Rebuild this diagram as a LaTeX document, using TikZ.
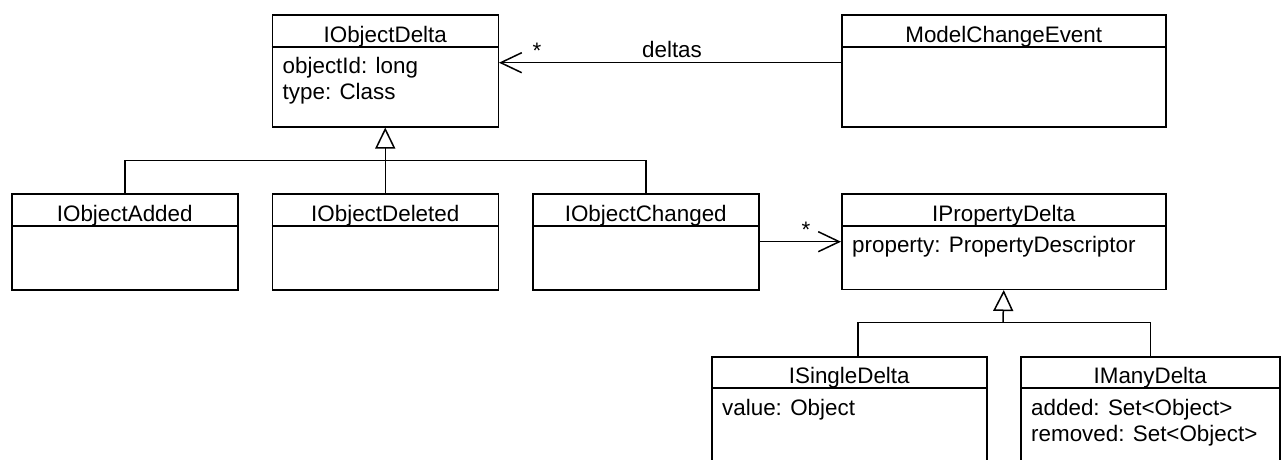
\documentclass[tikz,border=0pt]{standalone}
\usepackage{fontspec}
\setmainfont{Liberation Sans}
\usetikzlibrary{arrows.meta}
\newcommand\UmlClass[7]{%
  \node[cls, minimum width=#4pt, minimum height=#5pt] (#1) at (#2,#3) {};
  \draw[conn] ([yshift=-#6pt]#1.north west) -- ([yshift=-#6pt]#1.north east);
  \node[ttl] (#1-t) at ([yshift=-#6pt+5pt]#1.north) {#7};
}
\newcommand\UmlAttr[4]{%
  \node[attr] (#1-a#2) at ([xshift=11pt,yshift=-#3pt]#1.north west) {#4};
}
\begin{document}
\begin{tikzpicture}[x=1pt,y=-1pt,
  cls/.style={draw, line width=1.5pt, anchor=north west, inner sep=0pt, fill=white},
  umlfont/.style={font=\fontsize{22.4}{26.7}\selectfont},
  ttl/.style={umlfont, anchor=base, inner sep=0pt},
  attr/.style={umlfont, anchor=base west, inner sep=0pt},
  lbl/.style={umlfont, anchor=base, inner sep=0pt},
  conn/.style={line width=1.5pt},
  assoc/.style={conn, -{Straight Barb[length=21pt,width=20pt]}},
  gen/.style={conn, -{Triangle[length=21pt,width=20pt,fill=white]}},
]
\useasboundingbox (0,0) rectangle (1282,459);
\clip (0,0) rectangle (1282,459);

% top row
\UmlClass{iod}{271.5}{14}{226}{112}{33}{IObjectDelta}
\UmlAttr{iod}{1}{59}{objectId: long}
\UmlAttr{iod}{2}{85.7}{type: Class}
\UmlClass{mce}{841}{14}{324}{112}{33}{ModelChangeEvent}

% middle row
\UmlClass{iadd}{11}{193}{226}{96}{33}{IObjectAdded}
\UmlClass{idel}{271.5}{193}{226}{96}{33}{IObjectDeleted}
\UmlClass{ichg}{532}{193}{226}{96}{33}{IObjectChanged}
\UmlClass{ipd}{841}{193}{324}{95.5}{33}{IPropertyDelta}
\UmlAttr{ipd}{1}{59.5}{property: PropertyDescriptor}

% bottom row
\UmlClass{isd}{711}{356}{275}{150}{32}{ISingleDelta}
\UmlAttr{isd}{1}{59}{value: Object}
\UmlClass{imd}{1020}{356}{259}{150}{32}{IManyDelta}
\UmlAttr{imd}{1}{59}{added: Set<Object>}
\UmlAttr{imd}{2}{85.7}{removed: Set<Object>}

% associations
\draw[assoc] ([yshift=-48.7pt]mce.north west) -- ([yshift=-48.7pt]iod.north east);
\node[lbl] (m1) at (537,58.5) {*};
\node[lbl] (d1) at (672,57.5) {deltas};
\draw[assoc] ([yshift=-48.7pt]ichg.north east) -- ([yshift=-48.7pt]ipd.north west);
\node[lbl] (m2) at (806,237.5) {*};

% generalizations
\coordinate (bar1) at (384.5,160.7);
\draw[gen] (idel.north) -- (iod.south);
\draw[conn] (iadd.north) |- (bar1) -| (ichg.north);
\coordinate (bar2) at (1003,322.7);
\draw[gen] (bar2) -- (ipd.south);
\draw[conn] ([xshift=8.5pt]isd.north) |- (bar2) -| (imd.north);
\end{tikzpicture}
\end{document}
